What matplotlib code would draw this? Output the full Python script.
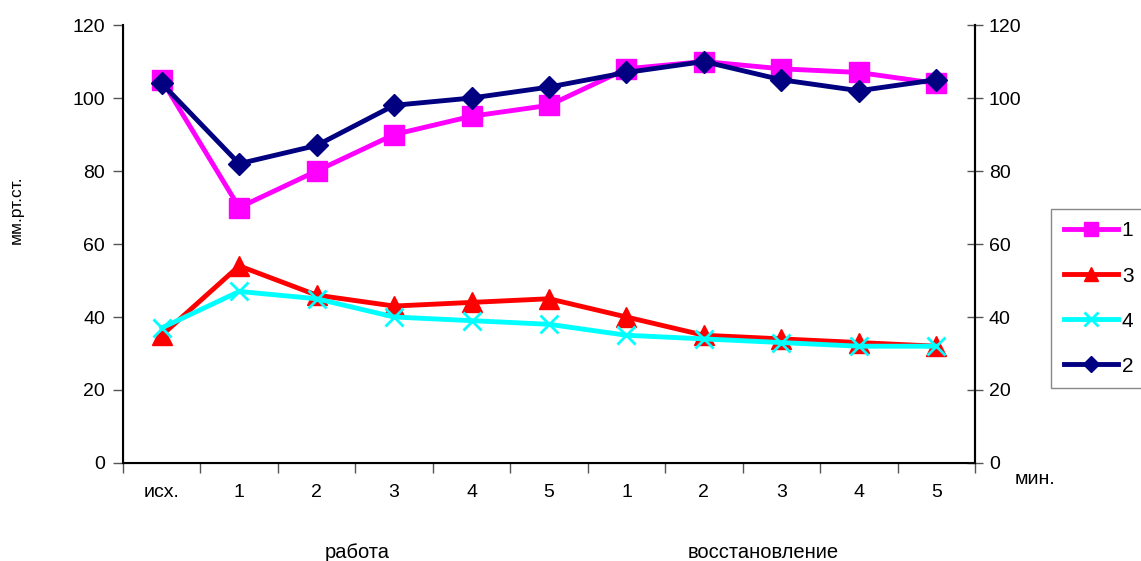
import matplotlib
matplotlib.use('Agg')
import matplotlib.pyplot as plt
import numpy as np

plt.rcParams['font.family'] = ['Liberation Sans', 'DejaVu Sans']

# categories along the time axis
categories = ['исх.', '1', '2', '3', '4', '5', '1', '2', '3', '4', '5']

# series values (мм.рт.ст.)
s1 = [105, 70, 80, 90, 95, 98, 108, 110, 108, 107, 104]
s3 = [35, 54, 46, 43, 44, 45, 40, 35, 34, 33, 32]
s4 = [37, 47, 45, 40, 39, 38, 35, 34, 33, 32, 32]
s2 = [104, 82, 87, 98, 100, 103, 107, 110, 105, 102, 105]

y_ticks = [0, 20, 40, 60, 80, 100, 120]

x = np.arange(len(categories))

fig = plt.figure(figsize=(11.41, 5.61), dpi=100)
ax = fig.add_axes([0.1078, 0.1747, 0.7467, 0.7807])

ax.plot(x, s1, color='#ff00ff', lw=3.5, marker='s', ms=14, label='1')
ax.plot(x, s3, color='#ff0000', lw=3.5, marker='^', ms=14, label='3')
ax.plot(x, s4, color='#00ffff', lw=3.5, marker='x', ms=13, mew=2, label='4')
ax.plot(x, s2, color='#000080', lw=3.5, marker='D', ms=11, label='2')

ax.set_xlim(-0.5, len(categories) - 0.5)
ax.set_ylim(0, 120)
ax.set_yticks(y_ticks)
ax.tick_params(axis='y', direction='out', length=7, width=1, colors='#555555',
               labelcolor='black', labelsize=14, pad=6)

# boundaries get the tick marks, centres get the labels
ax.set_xticks(np.arange(-0.5, len(categories)), labels=[])
ax.set_xticks(x, labels=categories, minor=True)
ax.tick_params(axis='x', which='major', direction='out', length=7, width=1, colors='#555555')
ax.tick_params(axis='x', which='minor', length=0, labelsize=14, pad=15)

ax.spines['top'].set_visible(False)
for s in ['left', 'bottom', 'right']:
    ax.spines[s].set_linewidth(1.5)

ax2 = ax.twinx()
ax2.set_ylim(0, 120)
ax2.set_yticks(y_ticks)
ax2.tick_params(axis='y', direction='inout', length=12, width=1, colors='#555555',
                labelcolor='black', labelsize=14, pad=4)
ax2.spines['top'].set_visible(False)
ax2.spines['right'].set_linewidth(1.5)

fig.text(16 / 1141, 1 - 210 / 561, 'мм.рт.ст.', rotation=90, fontsize=12.5,
         ha='center', va='center')
fig.text(357 / 1141, 1 - 552 / 561, 'работа', fontsize=14.5, ha='center', va='center')
fig.text(763 / 1141, 1 - 553 / 561, 'восстановление', fontsize=14.5, ha='center', va='center')
fig.text(1035 / 1141, 1 - 479 / 561, 'мин.', fontsize=14, ha='center', va='center')

leg = fig.legend(loc='upper left', bbox_to_anchor=(1051 / 1141, 1 - 209 / 561),
                 borderaxespad=0, fontsize=15, markerscale=0.75, handlelength=2.6,
                 handletextpad=0.2, labelspacing=1.25, borderpad=0.6,
                 fancybox=False, edgecolor='#888888', framealpha=1)
leg.get_frame().set_linewidth(1)

fig.savefig('out.png', dpi=100)
